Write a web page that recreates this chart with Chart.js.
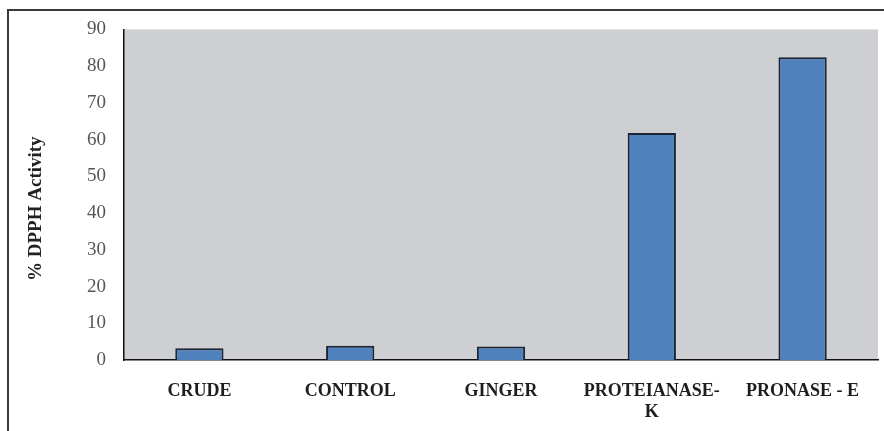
<!DOCTYPE html>
<html>
<head>
<meta charset="utf-8">
<script src="https://cdn.jsdelivr.net/npm/chart.js@4"></script>
<style>
  html, body { margin: 0; padding: 0; background: #fff; }
  #wrap { position: relative; width: 884px; height: 431px; overflow: hidden; }
  #frame { position: absolute; left: 7px; top: 9px; width: 1000px; height: 1000px;
           border-top: 2px solid #3a3a3a; border-left: 2px solid #3a3a3a; pointer-events: none; }
  canvas { position: absolute; left: 0; top: 0; }
</style>
</head>
<body>
<div id="wrap">
  <canvas id="c" width="884" height="431"></canvas>
  <div id="frame"></div>
</div>
<script>
// Treatments and their DPPH radical-scavenging activity (%)
const categories = ["CRUDE", "CONTROL", "GINGER", ["PROTEIANASE-", "K"], "PRONASE - E"];
const activity = [3.2, 3.9, 3.7, 61.8, 82.4];
const yTicks = [0, 10, 20, 30, 40, 50, 60, 70, 80, 90];
const yTitle = "% DPPH Activity";

const serif = "'Liberation Serif', 'Times New Roman', serif";

// Fills the plotting region with the grey panel
const plotPanel = {
  id: "plotPanel",
  beforeDraw(chart) {
    const { ctx, chartArea: a } = chart;
    ctx.save();
    ctx.fillStyle = "#cdcfd2";
    ctx.fillRect(a.left, a.top, a.right - a.left, a.bottom - a.top);
    ctx.restore();
  }
};

// Vertical axis title, set slightly below the panel's middle
const axisTitle = {
  id: "axisTitle",
  afterDraw(chart) {
    const { ctx, chartArea: a } = chart;
    ctx.save();
    ctx.translate(36, (a.top + a.bottom) / 2 + 14);
    ctx.rotate(-Math.PI / 2);
    ctx.font = "bold 19px " + serif;
    ctx.fillStyle = "#222";
    ctx.textAlign = "center";
    ctx.textBaseline = "middle";
    ctx.fillText(yTitle, 0, 0);
    ctx.restore();
  }
};

new Chart(document.getElementById("c"), {
  type: "bar",
  data: {
    labels: categories,
    datasets: [{
      data: activity,
      backgroundColor: "#4f81bd",
      borderColor: "#1c2434",
      borderWidth: 2,
      borderSkipped: "bottom",
      barPercentage: 0.32,
      categoryPercentage: 1
    }]
  },
  options: {
    responsive: false,
    animation: false,
    layout: { padding: { left: 0, right: 6, top: 27, bottom: 0 } },
    plugins: { legend: { display: false }, tooltip: { enabled: false } },
    scales: {
      x: {
        grid: { display: false, drawTicks: false },
        border: { display: true, color: "#111", width: 1.5 },
        ticks: {
          color: "#1e1e1e",
          font: { family: serif, size: 18, weight: "bold", lineHeight: 1.17 },
          padding: 21,
          maxRotation: 0,
          autoSkip: false
        },
        afterFit(scale) { scale.height = 71; }
      },
      y: {
        min: 0,
        max: 90,
        afterBuildTicks(scale) { scale.ticks = yTicks.map(v => ({ value: v })); },
        grid: { display: false, drawTicks: false },
        border: { display: true, color: "#111", width: 1.5 },
        ticks: {
          color: "#555",
          font: { family: serif, size: 19 },
          padding: 18
        },
        title: { display: false },
        afterFit(scale) { scale.width = 124; }
      }
    }
  },
  plugins: [plotPanel, axisTitle]
});
</script>
</body>
</html>
